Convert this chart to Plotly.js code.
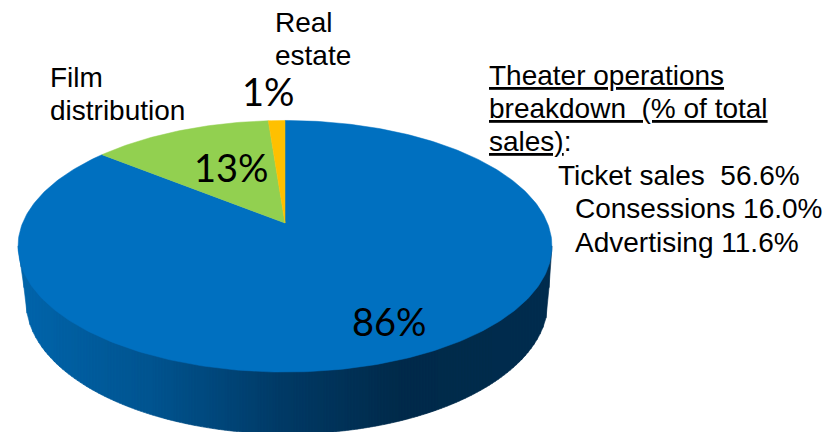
<!DOCTYPE html>
<html>
<head>
<meta charset="utf-8">
<script src="https://cdn.plot.ly/plotly-3.0.1.min.js"></script>
<style>html,body{margin:0;padding:0;background:#fff}#chart{width:839px;height:432px}</style>
</head>
<body>
<div id="chart"></div>
<script>
// Data (clockwise from 12 o'clock)
const sliceNames = ["Theater operations", "Film distribution", "Real estate"];
const sliceValues = [85.8, 13.0, 1.2];
const sliceColors = ["#0070C0", "#92D050", "#FFC000"];
const percentLabels = ["86%", "13%", "1%"];
const percentX = [389, 231, 268];
const percentY = [321, 167, 91];
const nameLines = ["Film", "distribution", "Real", "estate"];
const nameX = [50, 50, 275, 275];
const nameY = [77, 110, 22, 55];
const noteLines = ["<u>Theater operations</u>", "<u>breakdown\u00a0 (% of total</u>", "<u>sales)</u>:", "Ticket sales\u00a0 56.6%", "Consessions 16.0%", "Advertising 11.6%"];
const noteX = [489, 489, 489, 558, 575, 575];
const noteY = [75, 108, 141, 175, 208, 242];

// Perspective pie geometry
const apexX = 285, apexY = 223, radA = 262.4, radB = 121.5, persp = 0.185;
const lowerCx = 287, lowerCy = 301.5, lowerRx = 261, lowerRy = 132.5, topCy = 246, edgeL = 18, edgeR = 552;
const sideStops = [[24, [0,100,170]], [150, [0,84,144]], [280, [0,58,102]], [400, [0,42,74]], [546, [0,44,78]]];

function project(frac) {
  const t = frac * 2 * Math.PI, u = Math.cos(t), v = Math.sin(t), w = 1 + persp * u;
  return [apexX + radA * v / w, apexY - radB * u / w];
}
function sideColor(x) {
  if (x <= sideStops[0][0]) return "rgb(" + sideStops[0][1].join(",") + ")";
  for (let i = 1; i < sideStops.length; i++) {
    const a = sideStops[i - 1], b = sideStops[i];
    if (x <= b[0]) {
      const f = (x - a[0]) / (b[0] - a[0]);
      return "rgb(" + a[1].map((c, k) => Math.round(c + (b[1][k] - c) * f)).join(",") + ")";
    }
  }
  return "rgb(" + sideStops[sideStops.length - 1][1].join(",") + ")";
}
function sideBottom(x) {
  const left = lowerCx - lowerRx, right = lowerCx + lowerRx;
  if (x < left) return topCy + (lowerCy - topCy) * (x - edgeL) / (left - edgeL);
  if (x > right) return topCy + (lowerCy - topCy) * (edgeR - x) / (edgeR - right);
  const d = (x - lowerCx) / lowerRx;
  return lowerCy + lowerRy * Math.sqrt(1 - d * d);
}

const traces = [];
// Side wall as narrow vertical strips
for (let x = edgeL; x < edgeR; x += 3) {
  const x2 = Math.min(x + 3, edgeR);
  traces.push({x: [x, x, x2, x2, x], y: [topCy, sideBottom(x), sideBottom(x2), topCy, topCy],
    mode: "lines", fill: "toself", fillcolor: sideColor(x),
    line: {width: 0.6, color: sideColor(x)}, hoverinfo: "skip", showlegend: false});
}
// Top-face slices
const total = sliceValues.reduce((a, b) => a + b, 0);
let acc = 0;
sliceValues.forEach((val, i) => {
  const xs = [apexX], ys = [apexY], n = Math.max(4, Math.round(val * 4));
  for (let k = 0; k <= n; k++) {
    const p = project((acc + val * k / n) / total);
    xs.push(p[0]); ys.push(p[1]);
  }
  xs.push(apexX); ys.push(apexY);
  traces.push({x: xs, y: ys, mode: "lines", fill: "toself", fillcolor: sliceColors[i],
    line: {width: 0.5, color: sliceColors[i]}, name: sliceNames[i], hoverinfo: "name", showlegend: false});
  acc += val;
});

const sansFont = {family: "Liberation Sans, Arial, sans-serif", size: 28, color: "#000"};
const pctFont = {family: "Lato, Carlito, sans-serif", size: 38, color: "#000"};
const annotations = [];
nameLines.forEach((t, i) => annotations.push({x: nameX[i], y: nameY[i], text: t, font: sansFont}));
noteLines.forEach((t, i) => annotations.push({x: noteX[i], y: noteY[i], text: t, font: sansFont}));
annotations.forEach(a => { a.xanchor = "left"; a.yanchor = "middle"; });
percentLabels.forEach((t, i) => annotations.push({x: percentX[i], y: percentY[i], text: t, font: pctFont, xanchor: "center", yanchor: "middle"}));
annotations.forEach(a => { a.showarrow = false; a.xref = "x"; a.yref = "y"; a.borderpad = 0; a.borderwidth = 0; });

const hiddenAxis = {visible: false, fixedrange: true, showgrid: false, zeroline: false};
Plotly.newPlot("chart", traces, {
  width: 839, height: 432,
  margin: {l: 0, r: 0, t: 0, b: 0},
  paper_bgcolor: "#fff", plot_bgcolor: "#fff",
  xaxis: Object.assign({range: [0, 839]}, hiddenAxis),
  yaxis: Object.assign({range: [432, 0]}, hiddenAxis),
  annotations: annotations,
  showlegend: false
}, {displayModeBar: false});
</script>
</body>
</html>
